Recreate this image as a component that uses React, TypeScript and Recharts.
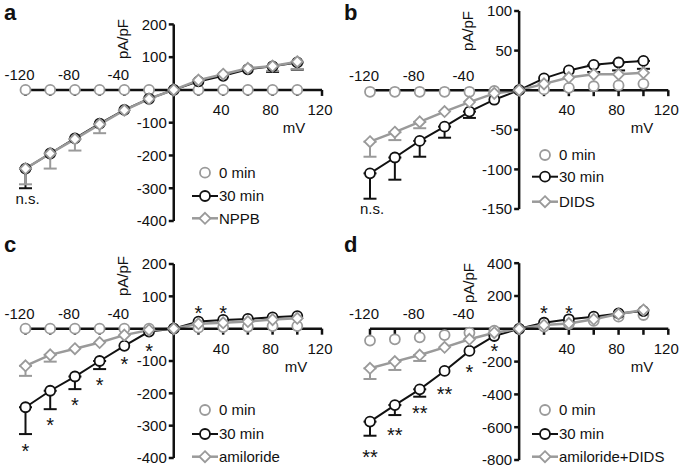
import React from "react";
import {
  ComposedChart,
  Line,
  XAxis,
  YAxis,
  ReferenceLine,
  ReferenceDot,
  ErrorBar,
} from "recharts";

const FONT = "'Liberation Sans', Arial, Helvetica, sans-serif";
const GREY = "#9a9a9a";
const BLACK = "#111";

// membrane potential steps (mV)
const voltages = [-120, -100, -80, -60, -40, -20, 0, 20, 40, 60, 80, 100];
const xTickMarks = [-120, -100, -80, -60, -40, -20, 0, 20, 40, 60, 80, 100, 120];
const xTickLabels = [-120, -80, -40, 40, 80, 120];

// panel a (NPPB)
const aZeroMin = [0, 0, 0, 0, 0, 0, 0, 0, 0, 0, 0, 0];
const aThirtyMin = [-240, -194, -148, -103, -61, -27, 0, 26, 43, 63, 72, 84];
const aNppb = [-240, -194, -150, -105, -62, -27, 0, 30, 48, 66, 73, 86];
const aThirtyErr = [60, 0, 0, 0, 0, 0, 0, 0, 0, 0, 17, 22];
const aNppbErr = [48, 46, 35, 27, 0, 0, 0, 0, 0, 0, 15, 22];
const aYTicks = [200, 100, -100, -200, -300, -400];

// panel b (DIDS)
const bZeroMin = [-2, -2, -2, -2, -2, -1, 0, 1, 3, 5, 6, 8];
const bThirtyMin = [-105, -85, -64, -46, -27, -12, 0, 15, 25, 32, 35, 37];
const bDids = [-65, -53, -40, -27, -15, -4, 0, 8, 16, 20, 20, 22];
const bThirtyErr = [32, 28, 20, 14, 8, 0, 0, 0, 0, 9, 10, 10];
const bDidsErr = [19, 10, 8, 0, 0, 0, 0, 0, 0, 0, 0, 0];
const bYTicks = [100, 50, -50, -100, -150];

// panel c (amiloride)
const cZeroMin = [0, 0, 0, 0, 0, 0, 0, 3, 5, 6, 8, 8];
const cThirtyMin = [-243, -192, -148, -100, -53, -9, 0, 22, 27, 30, 35, 39];
const cAmiloride = [-115, -81, -62, -43, -20, -4, 0, 15, 18, 22, 28, 32];
const cThirtyErr = [83, 57, 39, 25, 0, 0, 0, 0, 0, 0, 0, 0];
const cAmilorideErr = [31, 21, 0, 0, 0, 0, 0, 0, 0, 0, 0, 0];
const cYTicks = [200, 100, -100, -200, -300, -400];
const cStarV = [-120, -100, -80, -60, -40, -20, 20, 40];
const cStarY = [-365, -285, -221, -159, -95, -56, 63, 63];
const cStarText = ["*", "*", "*", "*", "*", "*", "*", "*"];

// panel d (amiloride+DIDS)
const dZeroMin = [-72, -64, -52, -38, -24, -12, 0, 13, 29, 48, 74, 84];
const dThirtyMin = [-566, -465, -369, -257, -135, -44, 0, 37, 58, 74, 94, 108];
const dAmilorideDids = [-241, -200, -160, -113, -64, -24, 0, 23, 33, 58, 90, 115];
const dThirtyErr = [86, 61, 45, 0, 0, 0, 0, 0, 0, 0, 0, 0];
const dAmilorideDidsErr = [65, 51, 36, 0, 0, 0, 0, 0, 0, 0, 0, 0];
const dYTicks = [400, 200, -200, -400, -600, -800];
const dStarV = [-120, -100, -80, -60, -40, -20, 20, 40];
const dStarY = [-753, -623, -489, -373, -235, -110, 125, 125];
const dStarText = ["**", "**", "**", "**", "*", "*", "*", "*"];

const circleDot = (color: string) => (p: any) => (
  <circle key={`c-${p.index}`} cx={p.cx} cy={p.cy} r={5} fill="#fff" stroke={color} strokeWidth={1.8} />
);

const diamondPoints = (x: number, y: number, s: number) =>
  `${x},${y - s} ${x + s},${y} ${x},${y + s} ${x - s},${y}`;

const diamondDot = (color: string) => (p: any) => (
  <polygon key={`d-${p.index}`} points={diamondPoints(p.cx, p.cy, 5.5)} fill="#fff" stroke={color} strokeWidth={1.8} />
);

const toErr = (e: number) => (e > 0 ? [e, 0] : null);

interface PanelCfg {
  letter: string;
  left: number;
  top: number;
  width: number;
  height: number;
  margin: { top: number; right: number; bottom: number; left: number };
  yDomain: [number, number];
  yTicks: number[];
  zero: number[];
  thirty: number[];
  drug: number[];
  thirtyErr: number[];
  drugErr: number[];
  drugName: string;
  nsY?: number;
  starV?: number[];
  starY?: number[];
  starText?: string[];
  yLabel: [number, number];
  mvLabel: [number, number];
  legendY: number[];
  letterY: number;
}

const panels: PanelCfg[] = [
  {
    letter: "a", left: 0, top: 0, width: 340, height: 235,
    margin: { top: 24.4, right: 18, bottom: 14, left: 25.5 },
    yDomain: [-400, 200], yTicks: aYTicks,
    zero: aZeroMin, thirty: aThirtyMin, drug: aNppb, thirtyErr: aThirtyErr, drugErr: aNppbErr,
    drugName: "NPPB", nsY: -332,
    yLabel: [122.5, 39], mvLabel: [294, 128], legendY: [172.7, 196, 218.3], letterY: 20,
  },
  {
    letter: "b", left: 340, top: 0, width: 345, height: 235,
    margin: { top: 11, right: 16.7, bottom: 26, left: 30 },
    yDomain: [-150, 100], yTicks: bYTicks,
    zero: bZeroMin, thirty: bThirtyMin, drug: bDids, thirtyErr: bThirtyErr, drugErr: bDidsErr,
    drugName: "DIDS", nsY: -150,
    yLabel: [127.5, 31], mvLabel: [302, 128], legendY: [155, 176.7, 201.7], letterY: 20,
  },
  {
    letter: "c", left: 0, top: 235, width: 340, height: 235,
    margin: { top: 29, right: 18, bottom: 12, left: 25.5 },
    yDomain: [-400, 200], yTicks: cYTicks,
    zero: cZeroMin, thirty: cThirtyMin, drug: cAmiloride, thirtyErr: cThirtyErr, drugErr: cAmilorideErr,
    drugName: "amiloride", starV: cStarV, starY: cStarY, starText: cStarText,
    yLabel: [122, 41], mvLabel: [296, 131.7], legendY: [175, 199, 221.7], letterY: 252,
  },
  {
    letter: "d", left: 340, top: 235, width: 345, height: 235,
    margin: { top: 28.2, right: 16.7, bottom: 10, left: 30 },
    yDomain: [-800, 400], yTicks: dYTicks,
    zero: dZeroMin, thirty: dThirtyMin, drug: dAmilorideDids, thirtyErr: dThirtyErr, drugErr: dAmilorideDidsErr,
    drugName: "amiloride+DIDS", starV: dStarV, starY: dStarY, starText: dStarText,
    yLabel: [128, 48], mvLabel: [302, 131.7], legendY: [175, 199, 221.7], letterY: 252,
  },
];

function IVPanel({ cfg }: { cfg: PanelCfg }) {
  const rows = voltages.map((v, i) => ({
    v,
    zero: cfg.zero[i],
    thirty: cfg.thirty[i],
    drug: cfg.drug[i],
    thirtyErr: toErr(cfg.thirtyErr[i]),
    drugErr: toErr(cfg.drugErr[i]),
  }));
  const lx = 205;
  const tx = 219;
  const [r0, r1, r2] = cfg.legendY;

  return (
    <div style={{ position: "absolute", left: cfg.left, top: cfg.top, width: cfg.width, height: cfg.height }}>
      <ComposedChart width={cfg.width} height={cfg.height} data={rows} margin={cfg.margin}>
        <XAxis dataKey="v" type="number" domain={[-120, 120]} hide />
        <YAxis type="number" domain={cfg.yDomain} hide />
        <Line dataKey="zero" stroke="none" strokeWidth={0} dot={circleDot(GREY)} activeDot={false} isAnimationActive={false} />
        <Line dataKey="thirty" stroke={BLACK} strokeWidth={2} dot={circleDot(BLACK)} activeDot={false} isAnimationActive={false}>
          <ErrorBar dataKey="thirtyErr" direction="y" width={6.5} stroke={BLACK} strokeWidth={2} />
        </Line>
        <Line dataKey="drug" stroke={GREY} strokeWidth={2.5} dot={diamondDot(GREY)} activeDot={false} isAnimationActive={false}>
          <ErrorBar dataKey="drugErr" direction="y" width={6.5} stroke={GREY} strokeWidth={2} />
        </Line>
        <ReferenceLine y={0} stroke={BLACK} strokeWidth={2.5} ifOverflow="visible" />
        <ReferenceLine x={0} stroke={BLACK} strokeWidth={2.5} ifOverflow="visible" />
        {xTickMarks.map((t) => (
          <ReferenceDot
            key={`xt-${t}`}
            x={t}
            y={0}
            r={0}
            ifOverflow="visible"
            shape={(p: any) => <line x1={p.cx} y1={p.cy} x2={p.cx} y2={p.cy + 6} stroke={BLACK} strokeWidth={2.5} />}
          />
        ))}
        {xTickLabels.map((t) => (
          <ReferenceDot
            key={`xl-${t}`}
            x={t}
            y={0}
            r={0}
            ifOverflow="visible"
            shape={(p: any) => (
              <text
                x={p.cx + (t < 0 ? -6 : -2)}
                y={t < 0 ? p.cy - 9.5 : p.cy + 25}
                textAnchor="middle"
                fontFamily={FONT}
                fontSize={15}
                fill={BLACK}
              >
                {t}
              </text>
            )}
          />
        ))}
        {cfg.yTicks.map((t) => (
          <ReferenceDot
            key={`yt-${t}`}
            x={0}
            y={t}
            r={0}
            ifOverflow="visible"
            shape={(p: any) => (
              <g>
                <line x1={p.cx - 5} y1={p.cy} x2={p.cx} y2={p.cy} stroke={BLACK} strokeWidth={2.5} />
                <text x={p.cx - 7} y={p.cy + 5.3} textAnchor="end" fontFamily={FONT} fontSize={15} fill={BLACK}>
                  {t}
                </text>
              </g>
            )}
          />
        ))}
        {cfg.nsY !== undefined && (
          <ReferenceDot
            x={-120}
            y={cfg.nsY}
            r={0}
            ifOverflow="visible"
            shape={(p: any) => (
              <text x={p.cx + 2} y={p.cy + 5} textAnchor="middle" fontFamily={FONT} fontSize={15} fill={BLACK}>
                n.s.
              </text>
            )}
          />
        )}
        {cfg.starV &&
          cfg.starV.map((v, i) => (
            <ReferenceDot
              key={`st-${v}`}
              x={v}
              y={cfg.starY![i]}
              r={0}
              ifOverflow="visible"
              shape={(p: any) => (
                <text x={p.cx} y={p.cy + 11.5} textAnchor="middle" fontFamily={FONT} fontSize={20} fill={BLACK}>
                  {cfg.starText![i]}
                </text>
              )}
            />
          ))}
      </ComposedChart>
      <svg
        width={cfg.width}
        height={cfg.height}
        style={{ position: "absolute", left: 0, top: 0, pointerEvents: "none" }}
        fontFamily={FONT}
      >
        <text
          x={cfg.yLabel[0]}
          y={cfg.yLabel[1]}
          transform={`rotate(-90 ${cfg.yLabel[0]} ${cfg.yLabel[1]})`}
          textAnchor="middle"
          dominantBaseline="central"
          fontSize={15}
          fill={BLACK}
        >
          pA/pF
        </text>
        <text x={cfg.mvLabel[0]} y={cfg.mvLabel[1] + 5.3} textAnchor="middle" fontSize={15} fill={BLACK}>
          mV
        </text>
        <circle cx={lx} cy={r0} r={5} fill="#fff" stroke={GREY} strokeWidth={1.8} />
        <text x={tx} y={r0 + 5.3} fontSize={15} fill={BLACK}>0 min</text>
        <line x1={lx - 13} y1={r1} x2={lx + 13} y2={r1} stroke={BLACK} strokeWidth={2} />
        <circle cx={lx} cy={r1} r={5} fill="#fff" stroke={BLACK} strokeWidth={1.8} />
        <text x={tx} y={r1 + 5.3} fontSize={15} fill={BLACK}>30 min</text>
        <line x1={lx - 13} y1={r2} x2={lx + 13} y2={r2} stroke={GREY} strokeWidth={2.5} />
        <polygon points={diamondPoints(lx, r2, 5.5)} fill="#fff" stroke={GREY} strokeWidth={1.8} />
        <text x={tx} y={r2 + 5.3} fontSize={15} fill={BLACK}>{cfg.drugName}</text>
      </svg>
    </div>
  );
}

export default function App() {
  return (
    <div style={{ position: "absolute", left: 0, top: 0, width: 685, height: 470, background: "#fff", overflow: "hidden" }}>
      {panels.map((cfg) => (
        <IVPanel key={cfg.letter} cfg={cfg} />
      ))}
      <svg width={685} height={470} style={{ position: "absolute", left: 0, top: 0, pointerEvents: "none" }} fontFamily={FONT}>
        {panels.map((cfg) => (
          <text key={`l-${cfg.letter}`} x={cfg.left + 4} y={cfg.letterY} fontSize={22} fontWeight="bold" fill={BLACK}>
            {cfg.letter}
          </text>
        ))}
      </svg>
    </div>
  );
}
